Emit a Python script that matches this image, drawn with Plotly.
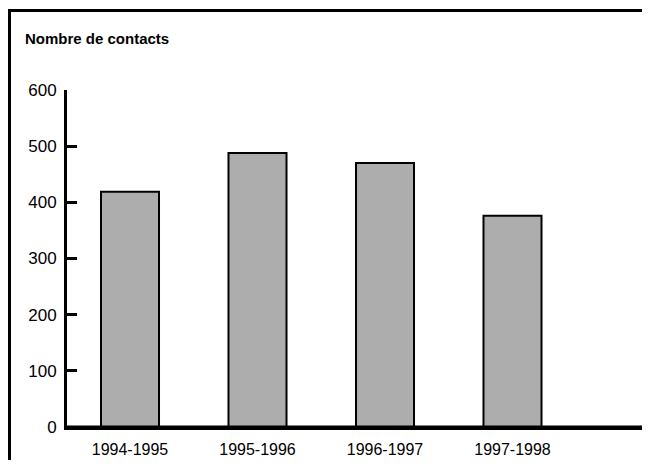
import plotly.graph_objects as go

categories = ["1994-1995", "1995-1996", "1996-1997", "1997-1998"]
contacts = [419, 488, 470, 376]
y_ticks = [0, 100, 200, 300, 400, 500, 600]
title_text = "Nombre de contacts"

# The page body has a default 8px margin; size the figure to end at the window edges.
OFF = 8
W, H = 650 - OFF, 468 - 2 * OFF
Y0_PX = 426.7
ml, mr, mt, mb = 67 - OFF, 0, 90 - OFF, (H + OFF) - Y0_PX

fig = go.Figure(go.Bar(
    x=list(range(len(categories))), y=contacts,
    width=0.455,
    marker=dict(color="#adadad", line=dict(color="black", width=2)),
))

pw = W - ml - mr
ph = H - mt - mb
cat_px = 127.5
x_lo = -(130 - 67) / cat_px
x_hi = x_lo + pw / cat_px

def px_to_paper_x(px):
    return (px - OFF - ml) / pw

def px_to_paper_y(py):
    return (H - mb - (py - OFF)) / ph

frame = dict(color="black", width=3)
fig.update_layout(
    width=W, height=H, autosize=False,
    margin=dict(l=ml, r=mr, t=mt, b=mb, pad=0),
    paper_bgcolor="white", plot_bgcolor="white",
    showlegend=False,
    font=dict(family="Liberation Sans, Arial, sans-serif", size=16, color="black"),
    xaxis=dict(
        range=[x_lo, x_hi],
        tickmode="array", tickvals=list(range(len(categories))), ticktext=categories,
        showline=True, linecolor="black", linewidth=3,
        ticks="", showgrid=False, zeroline=False,
        tickfont=dict(size=16),
        ticklabelstandoff=6,
    ),
    yaxis=dict(
        range=[0, 600],
        tickmode="array", tickvals=y_ticks,
        showline=True, linecolor="black", linewidth=3,
        ticks="inside", ticklen=10, tickwidth=3, tickcolor="black",
        showgrid=False, zeroline=False,
        tickfont=dict(size=17),
        ticklabelstandoff=4,
    ),
    shapes=[
        # outer frame (left and top edges; the rest lies outside the picture)
        dict(type="line", xref="paper", yref="paper",
             x0=px_to_paper_x(9.5), x1=px_to_paper_x(9.5),
             y0=px_to_paper_y(10.5), y1=px_to_paper_y(480), line=frame),
        dict(type="line", xref="paper", yref="paper",
             x0=px_to_paper_x(8), x1=px_to_paper_x(670),
             y0=px_to_paper_y(10.5), y1=px_to_paper_y(10.5), line=frame),
        # x axis baseline running to the right edge
        dict(type="line", xref="paper", yref="y",
             x0=px_to_paper_x(66), x1=px_to_paper_x(670),
             y0=0, y1=0, line=frame),
    ],
    annotations=[dict(
        text="<b>" + title_text + "</b>", xref="paper", yref="paper",
        x=px_to_paper_x(23), y=px_to_paper_y(39),
        xanchor="left", yanchor="middle", showarrow=False,
        font=dict(size=15, color="black"),
    )],
)

fig.write_html("out.html")
